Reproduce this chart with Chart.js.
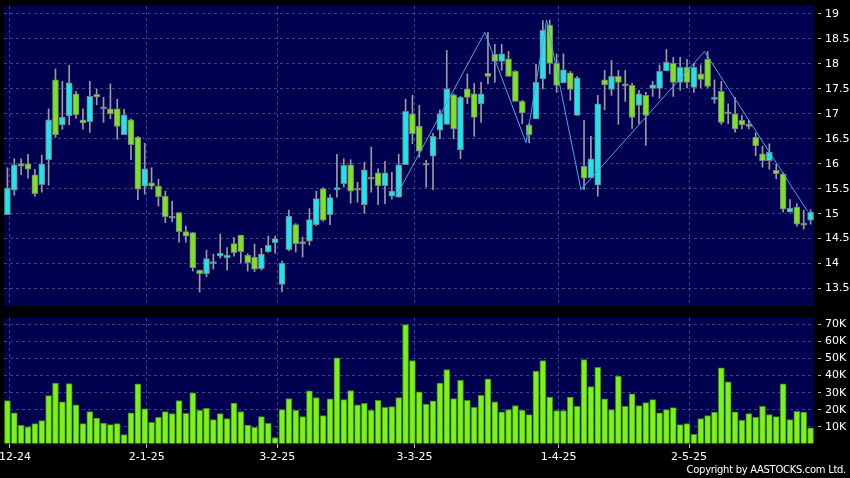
<!DOCTYPE html>
<html>
<head>
<meta charset="utf-8">
<script src="https://cdn.jsdelivr.net/npm/chart.js@4.4.1/dist/chart.umd.min.js"></script>
<style>
    html, body { margin: 0; padding: 0; background: #000; }
    #wrap { position: relative; width: 850px; height: 478px; background: #000; overflow: hidden; }
    #priceChart { position: absolute; left: 0; top: 0; }
    #volChart { position: absolute; left: 0; top: 312px; }
    #copy { position: absolute; right: 4px; top: 464px; color: #fff; font: 10px "DejaVu Sans"; letter-spacing: -0.3px; }
</style>
</head>
<body>
<div id="wrap">
    <canvas id="priceChart" width="850" height="312"></canvas>
    <canvas id="volChart" width="850" height="166"></canvas>
    <div id="copy">Copyright by AASTOCKS.com Ltd.</div>
</div>
<script>
// Daily candles, 2-12-24 .. end of May 25
const opens = [
    14.98, 15.47, 16.0, 16.0, 15.78, 15.58, 16.08, 17.68, 16.78, 16.96,
    17.4, 16.88, 16.84, 17.39, 17.1, 17.1, 17.1, 16.58, 16.88, 16.53,
    15.55, 15.62, 15.55, 15.35, 14.91, 15.02, 14.64, 14.62, 13.87, 13.8,
    14.0, 14.15, 14.12, 14.4, 14.57, 14.17, 14.13, 13.9, 14.24, 14.42,
    13.58, 14.28, 14.78, 14.4, 14.45, 14.78, 15.5, 14.98, 15.48, 15.6,
    15.98, 15.47, 15.18, 15.69, 15.82, 15.56, 15.35, 15.33, 15.98, 17.0,
    16.75, 15.97, 16.15, 16.67, 16.79, 17.38, 16.28, 17.5, 17.4, 17.2,
    17.81, 18.19, 18.05, 18.1, 17.85, 17.25, 16.78, 16.9, 17.7, 18.78,
    18.01, 17.62, 17.82, 16.97, 15.95, 15.72, 15.57, 17.68, 17.49, 17.75,
    17.56, 17.57, 17.17, 17.37, 17.51, 17.51, 17.86, 18.01, 17.63, 17.93,
    17.53, 17.8, 18.09, 17.29, 17.45, 17.0, 17.0, 16.87, 16.78, 16.53,
    16.2, 16.06, 15.87, 15.8, 15.03, 15.13, 14.81, 14.87
];
const highs = [
    15.92, 16.1, 16.1, 16.19, 15.89, 16.17, 17.1, 17.9, 17.65, 17.97,
    17.45, 17.1, 17.65, 17.5, 17.33, 17.6, 17.29, 17.09, 16.9, 16.55,
    16.41, 15.92, 15.69, 15.45, 15.25, 15.02, 14.75, 14.62, 13.87, 14.27,
    14.19, 14.59, 14.32, 14.52, 14.57, 14.2, 14.39, 14.31, 14.55, 14.55,
    14.05, 15.07, 14.8, 14.53, 15.1, 15.45, 15.52, 15.38, 16.19, 16.1,
    16.08, 15.63, 16.03, 16.33, 15.9, 16.05, 15.83, 16.19, 17.29, 17.37,
    17.17, 16.07, 16.61, 17.08, 18.27, 17.4, 17.35, 17.8, 17.61, 17.63,
    18.63, 18.39, 18.39, 18.25, 17.87, 17.27, 16.8, 17.99, 18.87, 18.88,
    18.2, 18.2, 17.85, 17.75, 16.87, 16.55, 17.37, 17.87, 18.07, 17.87,
    17.87, 17.61, 17.47, 17.43, 17.65, 17.98, 18.29, 18.13, 18.13, 18.09,
    18.01, 17.98, 18.25, 17.68, 17.65, 17.2, 17.33, 16.97, 16.87, 16.62,
    16.35, 16.4, 15.99, 15.82, 15.28, 15.2, 15.07, 15.08
];
const lows = [
    14.98, 15.37, 15.78, 15.71, 15.35, 15.43, 15.57, 16.53, 16.69, 16.78,
    16.91, 16.69, 16.63, 17.18, 16.83, 16.9, 16.49, 16.58, 16.08, 15.28,
    15.39, 15.49, 15.15, 14.82, 14.84, 14.43, 14.43, 13.85, 13.43, 13.74,
    13.89, 14.11, 13.87, 14.15, 14.01, 13.85, 13.84, 13.87, 14.22, 14.21,
    13.43, 14.26, 14.23, 14.13, 14.37, 14.76, 14.85, 14.78, 15.33, 15.53,
    15.21, 15.23, 15.01, 15.43, 15.18, 15.2, 15.29, 15.33, 15.98, 16.4,
    16.13, 15.53, 15.48, 16.5, 16.79, 16.5, 16.1, 17.2, 16.55, 16.83,
    17.6, 17.63, 17.87, 17.75, 17.25, 16.8, 16.42, 16.9, 17.5, 17.8,
    17.43, 17.62, 17.27, 16.97, 15.48, 15.72, 15.35, 17.08, 17.37, 16.79,
    17.25, 16.71, 16.8, 16.37, 17.35, 17.31, 17.86, 17.35, 17.47, 17.52,
    17.43, 17.52, 17.52, 17.21, 16.79, 16.8, 16.63, 16.7, 16.7, 16.16,
    15.93, 15.89, 15.7, 15.03, 15.03, 14.75, 14.69, 14.79
];
const closes = [
    15.51, 15.98, 15.95, 15.89, 15.4, 16.0, 16.88, 16.58, 16.93, 17.62,
    16.98, 16.82, 17.35, 17.34, 17.1, 17.0, 16.75, 16.98, 16.38, 15.49,
    15.9, 15.55, 15.34, 14.94, 14.91, 14.64, 14.55, 13.92, 13.8, 14.1,
    14.0, 14.21, 14.17, 14.22, 14.24, 14.02, 13.89, 14.19, 14.37, 14.5,
    14.01, 14.95, 14.4, 14.4, 14.88, 15.3, 14.87, 15.32, 15.52, 15.97,
    15.45, 15.47, 15.88, 15.69, 15.56, 15.82, 15.45, 15.98, 17.05, 16.6,
    16.25, 15.97, 16.55, 17.0, 17.5, 16.7, 17.33, 17.33, 16.93, 17.4,
    17.75, 18.05, 18.2, 17.75, 17.25, 17.02, 16.58, 17.63, 18.68, 18.01,
    17.57, 17.88, 17.49, 17.72, 15.71, 16.1, 17.2, 17.58, 17.75, 17.63,
    17.56, 16.93, 17.4, 16.97, 17.58, 17.85, 18.03, 17.63, 17.93, 17.63,
    17.93, 17.69, 17.55, 17.33, 16.83, 17.0, 16.7, 16.78, 16.75, 16.36,
    16.06, 16.23, 15.8, 15.09, 15.11, 14.79, 14.77, 15.03
];
// volume in thousands
const volumes = [
    25.4, 18.2, 10.9, 10.0, 11.9, 13.7, 28.3, 35.7, 24.6, 35.4,
    22.9, 11.9, 18.9, 15.2, 12.3, 11.3, 11.9, 5.5, 18.2, 35.2,
    20.5, 12.7, 15.6, 18.9, 17.8, 25.4, 18.0, 29.9, 19.7, 20.9,
    14.3, 17.8, 14.8, 24.0, 18.9, 11.1, 9.8, 16.0, 12.1, 3.7,
    20.1, 26.6, 19.7, 16.0, 31.1, 27.1, 16.6, 26.4, 50.4, 26.0,
    31.3, 22.9, 23.8, 19.7, 25.6, 21.5, 21.9, 27.1, 69.9, 48.8,
    30.5, 23.4, 25.2, 35.7, 43.6, 26.6, 37.3, 25.6, 21.5, 28.5,
    38.1, 24.6, 18.8, 20.1, 22.5, 19.7, 17.2, 42.6, 48.8, 27.5,
    19.5, 19.5, 27.5, 22.1, 49.4, 33.6, 44.9, 26.4, 20.1, 39.8,
    22.1, 29.3, 22.5, 24.2, 26.0, 18.2, 20.1, 21.3, 11.3, 11.9,
    5.7, 14.8, 16.6, 18.6, 44.5, 36.3, 18.8, 13.9, 17.8, 15.6,
    22.1, 17.2, 16.0, 35.2, 14.3, 19.1, 18.6, 9.4
];
const tickIndex = [0, 20, 39, 59, 80, 99];
const tickLabels = ["2-12-24", "2-1-25", "3-2-25", "3-3-25", "1-4-25", "2-5-25"];
// zigzag turning points (candle index, price)
const zigIndex = [57, 70, 76, 79, 84, 102, 117];
const zigPrice = [15.33, 18.63, 16.42, 18.88, 15.48, 18.25, 15.05];

const UP = "#1fe4ee";
const DOWN = "#7ae420";
const FLAT = "#a0a0a0";
const GRID = "rgba(115,115,175,0.55)";
const FONT = { family: "DejaVu Sans", size: 11 };
const NONE = "rgba(0,0,0,0)";

const plotBg = {
    id: "plotBg",
    beforeDraw(chart) {
        const { ctx, chartArea: a } = chart;
        ctx.save();
        ctx.fillStyle = "#000";
        ctx.fillRect(0, 0, chart.width, chart.height);
        ctx.fillStyle = "#000050";
        ctx.fillRect(a.left, a.top, a.right - a.left, a.bottom - a.top);
        ctx.restore();
    },
};

function dateAxis(showLabels) {
    return {
        type: "linear",
        min: -0.5,
        max: opens.length - 0.5,
        offset: false,
        afterBuildTicks: (s) => {
            s.ticks = tickIndex.map((v) => ({ value: v + 0.3 }));
        },
        afterFit: (s) => {
            s.paddingLeft = 0;
            s.paddingRight = 0;
            s.height = showLabels ? 34 : 0;
        },
        grid: { offset: false, color: GRID, drawTicks: showLabels, tickLength: 4, tickColor: "#bbb" },
        border: { display: false, dash: [3, 3] },
        ticks: {
            display: showLabels,
            autoSkip: false,
            maxRotation: 0,
            padding: 3,
            color: "#fff",
            font: FONT,
            callback: (v, i) => tickLabels[i],
        },
    };
}

function valueAxis(min, max, step, fmt) {
    return {
        position: "right",
        min: min,
        max: max,
        afterFit: (s) => {
            s.width = 36;
            s.paddingTop = 0;
            s.paddingBottom = 0;
        },
        grid: {
            color: (c) => (c.tick && c.tick.value === 0 ? NONE : GRID),
            tickLength: 8,
            tickColor: (c) => (c.tick && c.tick.value === 0 ? NONE : "#bbb"),
            tickBorderDash: [0, 4, 3, 20],
        },
        border: { display: false, dash: [3, 3] },
        ticks: { stepSize: step, includeBounds: false, color: "#fff", font: FONT, padding: 3, callback: fmt },
    };
}

const idx = opens.map((_, i) => i);

// Price chart
new Chart(document.getElementById("priceChart"), {
    type: "bar",
    data: {
        datasets: [
            {
                type: "line",
                data: zigIndex.map((v, i) => ({ x: v - 0.45, y: zigPrice[i] })),
                borderColor: "#45a6e6",
                borderWidth: 1,
                pointRadius: 0,
                tension: 0,
                order: 0,
            },
            {
                data: idx.map((i) => ({ x: i, y: [Math.min(opens[i], closes[i]), Math.max(opens[i], closes[i])] })),
                backgroundColor: idx.map((i) => (closes[i] > opens[i] ? UP : closes[i] < opens[i] ? DOWN : FLAT)),
                borderColor: "#7d7d7d",
                borderWidth: 1,
                borderSkipped: false,
                barThickness: 6,
                minBarLength: 2,
                grouped: false,
                order: 1,
            },
            {
                data: idx.map((i) => ({ x: i, y: [lows[i], highs[i]] })),
                backgroundColor: "#9c9c9c",
                barThickness: 1,
                grouped: false,
                order: 2,
            },
        ],
    },
    options: {
        responsive: false,
        animation: false,
        events: [],
        devicePixelRatio: 1,
        layout: { padding: { left: 4, top: 6, right: 0, bottom: 6 } },
        plugins: { legend: { display: false }, tooltip: { enabled: false } },
        scales: {
            x: dateAxis(false),
            y: valueAxis(13.15, 19.16, 0.5),
        },
    },
    plugins: [plotBg],
});

// Volume chart
new Chart(document.getElementById("volChart"), {
    type: "bar",
    data: {
        datasets: [
            {
                data: idx.map((i) => ({ x: i, y: volumes[i] })),
                backgroundColor: "#7ef01c",
                borderColor: "#3f8c10",
                borderWidth: 1,
                barThickness: 6,
            },
        ],
    },
    options: {
        responsive: false,
        animation: false,
        events: [],
        devicePixelRatio: 1,
        layout: { padding: { left: 4, top: 6, right: 0, bottom: 0 } },
        plugins: { legend: { display: false }, tooltip: { enabled: false } },
        scales: {
            x: dateAxis(true),
            y: valueAxis(0, 73.7, 10, (v) => (v ? v + "K" : "")),
        },
    },
    plugins: [plotBg],
});
</script>
</body>
</html>
